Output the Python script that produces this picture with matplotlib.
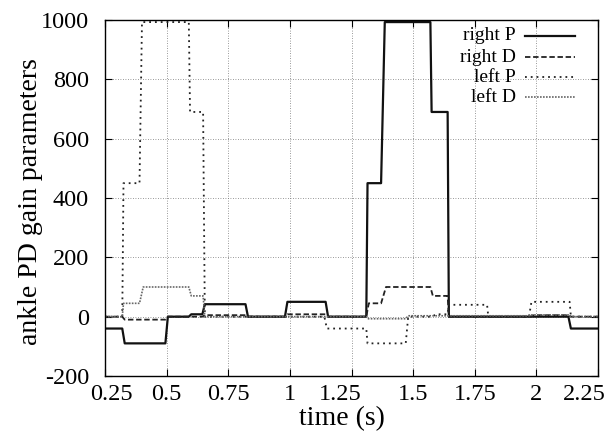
import matplotlib
matplotlib.use("Agg")
import matplotlib.pyplot as plt
from matplotlib.lines import Line2D
from matplotlib.transforms import ScaledTranslation

# ---- data (time in s, gain values) ----
rp_t = [0.25, 0.32, 0.33, 0.495, 0.505, 0.59, 0.60, 0.645, 0.655, 0.82, 0.83, 0.98, 0.99,
        1.145, 1.155, 1.31, 1.315, 1.37, 1.385, 1.57, 1.575, 1.64, 1.645, 2.13, 2.14, 2.25]
rp_v = [-40, -40, -90, -90, 0, 0, 8, 8, 42, 42, 0, 0, 50,
        50, 0, 0, 450, 450, 993, 993, 690, 690, 0, 0, -40, -40]

rd_t = [0.25, 0.32, 0.33, 0.495, 0.505, 0.645, 0.655, 0.82, 0.83, 0.98, 0.99, 1.145, 1.155,
        1.31, 1.32, 1.37, 1.39, 1.57, 1.58, 1.64, 1.645, 1.98, 1.99, 2.13, 2.14, 2.25]
rd_v = [0, 0, -10, -10, 0, 0, 5, 5, 0, 0, 8, 8, 0,
        0, 45, 45, 100, 100, 70, 70, 0, 0, 5, 5, 0, 0]

lp_t = [0.25, 0.32, 0.325, 0.39, 0.40, 0.59, 0.595, 0.648, 0.655, 1.14, 1.15, 1.31, 1.315,
        1.47, 1.48, 1.58, 1.59, 1.64, 1.645, 1.80, 1.805, 1.97, 1.98, 2.135, 2.14, 2.25]
lp_v = [0, 0, 450, 450, 993, 993, 690, 690, 0, 0, -40, -40, -90,
        -90, 0, 0, 8, 8, 40, 40, 0, 0, 50, 50, 0, 0]

ld_t = [0.25, 0.32, 0.325, 0.39, 0.405, 0.59, 0.60, 0.648, 0.655, 1.31, 1.315, 1.47, 1.48,
        1.97, 1.98, 2.135, 2.14, 2.25]
ld_v = [0, 0, 45, 45, 100, 100, 70, 70, 0, 0, -7, -7, 3,
        3, 6, 6, 0, 0]

labels = ["right P", "right D", "left P", "left D"]
x_ticks = [0.25, 0.5, 0.75, 1, 1.25, 1.5, 1.75, 2, 2.25]
x_tick_labels = ["0.25", "0.5", "0.75", "1", "1.25", "1.5", "1.75", "2", "2.25"]
y_ticks = [-200, 0, 200, 400, 600, 800, 1000]

plt.rcParams['font.family'] = ['Liberation Serif', 'DejaVu Serif']
plt.rcParams['axes.unicode_minus'] = False

W, H = 615, 434
fig = plt.figure(figsize=(W / 100, H / 100), dpi=100)
ax = fig.add_axes([105 / W, (H - 376) / H, 493 / W, 356 / H])

styles = [
    dict(color='#111111', lw=1.6, linestyle='-'),
    dict(color='#222222', lw=1.3, linestyle=(0, (3, 1.5))),
    dict(color='#222222', lw=1.3, linestyle=(0, (1, 2.2))),
    dict(color='#666666', lw=1.2, linestyle=(0, (1, 0.8))),
]
series = [(rp_t, rp_v), (rd_t, rd_v), (lp_t, lp_v), (ld_t, ld_v)]
for (t, v), st in zip(series, styles):
    ax.plot(t, v, **st)

ax.set_xlim(0.25, 2.25)
ax.set_ylim(-200, 1000)
ax.set_xticks(x_ticks)
ax.set_xticklabels(x_tick_labels)
ax.set_yticks(y_ticks)
ax.tick_params(direction='in', length=5, width=0.8, top=True, right=True,
               labelsize=17.5, colors='black')
ax.tick_params(axis='x', pad=6)
ax.tick_params(axis='y', pad=11.5)
ax.grid(True, color='#777777', lw=0.6, linestyle=(0, (1, 2)))
for s in ax.spines.values():
    s.set_linewidth(1.0)

# small horizontal nudges of some tick labels, as in the reference
nudges = {"0.25": 6, "1.25": -11, "2.25": -14}
for lab in ax.get_xticklabels():
    dx = nudges.get(lab.get_text(), 0)
    if dx:
        lab.set_transform(lab.get_transform() + ScaledTranslation(dx / 100, 0, fig.dpi_scale_trans))

ax.set_xlabel("time (s)", fontsize=20, va='center')
ax.xaxis.set_label_coords((342 - 105) / 493, -(419 - 376) / 356)
ax.set_ylabel("ankle PD gain parameters", fontsize=20, va='center')
ax.yaxis.set_label_coords((30 - 105) / 493, 0.49)

# legend, gnuplot-style: right-aligned text, sample on the right
ys = [36, 57, 77, 97]
for lab, st, yp in zip(labels, styles, ys):
    yf = 1 - (yp - 20) / 356
    ax.text((516 - 105) / 493, yf, lab, transform=ax.transAxes, ha='right', va='center',
            fontsize=14)
    ax.add_line(Line2D([(525 - 105) / 493, (575 - 105) / 493], [yf, yf],
                       transform=ax.transAxes, **st))

fig.savefig("out.png", dpi=100)
